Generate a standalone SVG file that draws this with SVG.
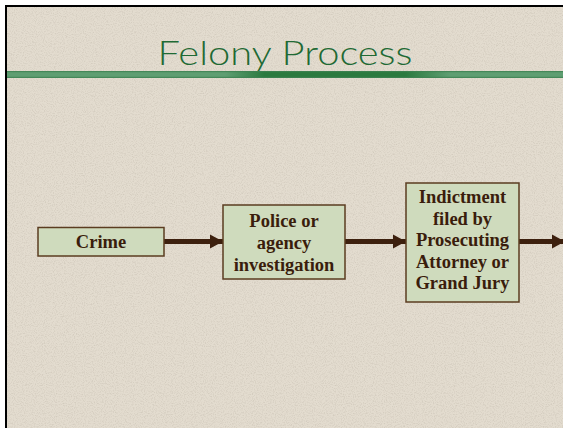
<svg xmlns="http://www.w3.org/2000/svg" width="563" height="428" viewBox="0 0 563 428">
  <defs>
    <filter id="grain" x="0" y="0" width="100%" height="100%">
      <feTurbulence type="fractalNoise" baseFrequency="0.9" numOctaves="2" seed="3" result="n"/>
      <feColorMatrix in="n" type="matrix" values="0 0 0 0 0.45  0 0 0 0 0.40  0 0 0 0 0.33  0 0 0 -2.2 1.25" result="c"/>
      <feComposite in="c" in2="SourceGraphic" operator="in"/>
    </filter>
    <linearGradient id="rule" x1="0" y1="0" x2="563" y2="0" gradientUnits="userSpaceOnUse">
      <stop offset="0" stop-color="#5f9e72"/>
      <stop offset="0.4" stop-color="#5f9e72"/>
      <stop offset="0.47" stop-color="#2b7a3f"/>
      <stop offset="0.72" stop-color="#2b7a3f"/>
      <stop offset="0.8" stop-color="#5f9e72"/>
      <stop offset="1" stop-color="#5f9e72"/>
    </linearGradient>
    <marker id="ah" markerUnits="userSpaceOnUse" markerWidth="14" markerHeight="16" refX="13" refY="8" orient="auto">
      <path d="M0,1 L13,8 L0,15 z" fill="#3d200e"/>
    </marker>
    <style>
      .box { fill: #cfdbbd; stroke: #5b3c20; stroke-width: 1.5; }
      .lbl { font-family: "Liberation Serif", "Times New Roman", serif; font-weight: bold; font-size: 18.5px; fill: #3a1d0c; text-anchor: middle; }
      .conn { stroke: #3d200e; stroke-width: 5; fill: none; }
    </style>
  </defs>
  <rect x="0" y="0" width="563" height="428" fill="#ffffff"/>
  <rect x="5" y="5" width="558" height="423" fill="#000000"/>
  <rect x="7" y="7" width="556" height="421" fill="#e3dccf"/>
  <rect x="7" y="7" width="556" height="421" fill="#e3dccf" filter="url(#grain)" opacity="0.35"/>

  <g id="title">
    <rect x="7" y="71" width="556" height="7" fill="url(#rule)"/>
    <rect x="7" y="71" width="556" height="1.2" fill="#3f8252" opacity="0.8"/>
    <rect x="7" y="76.8" width="556" height="1.2" fill="#3f8252" opacity="0.8"/>
    <text x="285" y="65" font-family="Lato, 'Open Sans', 'DejaVu Sans', sans-serif" font-weight="300" font-size="34" fill="#1f6a34" text-anchor="middle" textLength="255" lengthAdjust="spacingAndGlyphs">Felony Process</text>
  </g>

  <g id="connectors">
    <line class="conn" x1="164" y1="241.5" x2="223" y2="241.5" marker-end="url(#ah)"/>
    <line class="conn" x1="345" y1="241.5" x2="406" y2="241.5" marker-end="url(#ah)"/>
    <line class="conn" x1="519" y1="241.5" x2="565" y2="241.5" marker-end="url(#ah)"/>
  </g>

  <g id="crime">
    <rect class="box" x="38" y="227.5" width="126" height="28.5"/>
    <text class="lbl" x="101" y="248">Crime</text>
  </g>

  <g id="police">
    <rect class="box" x="223" y="205" width="122" height="74"/>
    <text class="lbl" x="284" y="227">Police or</text>
    <text class="lbl" x="284" y="249">agency</text>
    <text class="lbl" x="284" y="271">investigation</text>
  </g>

  <g id="indictment">
    <rect class="box" x="406" y="183" width="113" height="119"/>
    <text class="lbl" x="462.5" y="203">Indictment</text>
    <text class="lbl" x="462.5" y="224.5">filed by</text>
    <text class="lbl" x="462.5" y="246">Prosecuting</text>
    <text class="lbl" x="462.5" y="267.5">Attorney or</text>
    <text class="lbl" x="462.5" y="289">Grand Jury</text>
  </g>
</svg>
